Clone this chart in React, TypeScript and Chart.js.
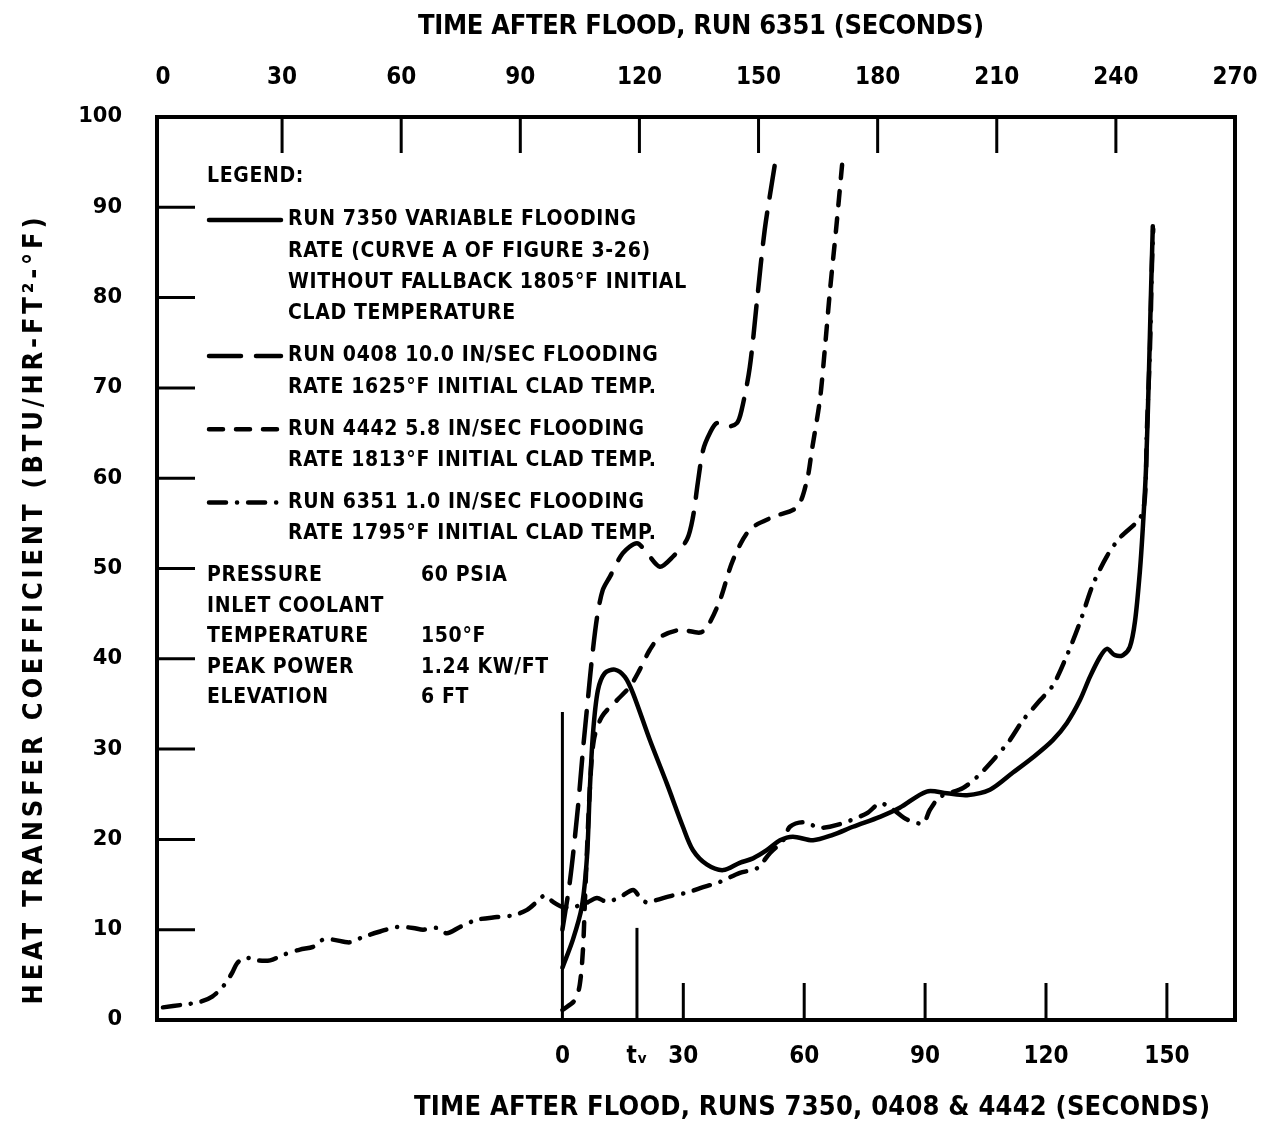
import React, { useEffect, useRef } from "react";
import { Chart, registerables } from "chart.js";

Chart.register(...registerables);

const COND = "'DejaVu Sans Condensed', 'DejaVu Sans', sans-serif";
const NARROW = "'Liberation Sans Narrow', 'DejaVu Sans Condensed', sans-serif";
const WIDE = "'DejaVu Sans', 'Liberation Sans', sans-serif";

// ---- data (bottom axis: seconds after flood for runs 7350, 0408, 4442) ----
const run7350: [number, number][] = [
  [0, 5.8], [2.6, 8.9], [4.8, 12.5], [6.1, 18.1], [6.8, 25.5], [7.6, 31.8], [8.8, 36.5],
  [10.5, 38.4], [13.0, 38.8], [15.5, 38.0], [17.5, 36.2], [21.7, 31.0], [25.9, 26.2],
  [29.9, 21.4], [32.4, 18.8], [35.9, 17.2], [39.9, 16.6], [44.0, 17.4], [47.3, 17.9],
  [50.7, 18.8], [54.0, 19.9], [57.2, 20.3], [62.2, 19.9], [67.1, 20.5], [72.1, 21.4],
  [78.8, 22.5], [83.7, 23.5], [90.4, 25.3], [95.4, 25.1], [100.4, 24.9], [106.1, 25.5],
  [111.8, 27.4], [116.8, 29.1], [121.7, 31.0], [125.2, 32.9], [128.4, 35.4], [130.9, 38.0],
  [133.4, 40.2], [135.1, 41.1], [137.1, 40.4], [139.1, 40.4], [140.8, 41.3], [142.1, 44.2],
  [143.3, 49.7], [144.0, 54.3], [144.8, 60.9], [145.5, 70.9], [146.0, 79.7], [146.5, 87.9],
];

const run0408: [number, number][] = [
  [0, 10.0], [1.9, 15.5], [3.8, 23.3], [5.1, 29.9], [6.3, 35.4], [7.3, 39.9], [8.6, 44.6],
  [10.0, 47.6], [11.8, 49.1], [15.0, 51.7], [18.5, 52.8], [21.0, 51.7], [24.2, 50.2],
  [27.4, 51.3], [30.9, 53.2], [32.4, 55.7], [33.6, 59.5], [34.9, 63.1], [36.6, 65.0],
  [38.3, 66.1], [40.8, 65.7], [43.3, 66.1], [44.5, 67.6], [46.5, 72.3], [48.3, 79.7],
  [50.2, 87.5], [52.7, 94.7],
];

const run4442: [number, number][] = [
  [0, 1.1], [3.1, 2.2], [4.3, 3.9], [5.1, 7.8], [5.6, 13.3], [6.1, 18.8], [6.8, 25.5],
  [7.8, 31.0], [9.8, 33.6], [13.5, 35.4], [16.7, 36.9], [19.2, 38.8], [21.7, 41.0],
  [24.2, 42.4], [29.2, 43.2], [34.1, 42.9], [35.9, 43.5], [39.1, 46.5], [42.3, 50.9],
  [46.5, 54.3], [52.2, 55.7], [58.2, 56.8], [60.7, 59.8], [61.9, 63.1], [63.9, 68.7],
  [65.1, 74.2], [66.4, 80.8], [67.9, 87.5], [69.4, 94.7],
];

// ---- run 6351 (top axis: seconds after flood for run 6351) ----
const run6351: [number, number][] = [
  [0, 1.4], [5.1, 1.7], [9.3, 2.0], [12.4, 2.6], [15.1, 3.7], [17.4, 5.2], [18.7, 6.3],
  [20.7, 6.9], [23.7, 6.6], [27.0, 6.6], [30.2, 7.2], [34.5, 7.8], [37.8, 8.1], [40.3, 8.9],
  [42.8, 8.9], [47.1, 8.6], [50.4, 9.2], [54.7, 9.8], [58.9, 10.3], [63.0, 10.2], [65.5, 10.0],
  [69.0, 10.2], [71.5, 9.6], [74.8, 10.3], [79.1, 11.1], [84.1, 11.4], [88.2, 11.6],
  [91.7, 12.2], [94.2, 13.1], [96.2, 13.8], [98.2, 13.1], [100.8, 12.5], [103.3, 12.5],
  [106.8, 13.0], [109.3, 13.5], [111.8, 13.1], [115.1, 13.6], [118.4, 14.4], [120.1, 13.6],
  [121.9, 13.0], [124.4, 13.3], [128.5, 13.8], [132.0, 14.1], [135.3, 14.6], [140.3, 15.3],
  [145.3, 16.3], [149.6, 16.8], [152.9, 18.5], [156.2, 19.9], [157.9, 21.4], [161.2, 21.9],
  [165.5, 21.3], [169.8, 21.6], [177.3, 22.9], [180.6, 24.0], [183.9, 23.3], [187.4, 22.2],
  [191.4, 21.8], [193.2, 23.3], [195.7, 24.7], [201.5, 25.7], [205.0, 26.9], [209.1, 28.8],
  [213.3, 31.0], [216.6, 33.2], [220.9, 35.4], [224.2, 37.1], [227.7, 40.4], [231.0, 44.1],
  [234.2, 48.2], [237.8, 51.4], [241.0, 53.4], [246.1, 55.6], [247.3, 57.8], [247.8, 65.2],
  [248.6, 74.6], [249.1, 83.9], [249.4, 87.6],
];

// flood start marker and t_v marker (bottom-axis seconds, HTC height)
const floodStartMark: [number, number][] = [[0, 0], [0, 34.1]];
const tvMark: [number, number][] = [[18.5, 0], [18.5, 10.2]];

// ---- axes ----
const bottomTickValues = [0, 18.5, 30, 60, 90, 120, 150];
const bottomTickLabels = ["0", "t\u1d65", "30", "60", "90", "120", "150"];
const topTickValues = [0, 30, 60, 90, 120, 150, 180, 210, 240, 270];
const yTickValues = [0, 10, 20, 30, 40, 50, 60, 70, 80, 90, 100];

const topTitle = "TIME AFTER FLOOD, RUN 6351 (SECONDS)";
const bottomTitle = "TIME AFTER FLOOD, RUNS 7350, 0408 & 4442 (SECONDS)";
const yTitle = "HEAT TRANSFER COEFFICIENT (BTU/HR-FT\u00b2-\u00b0F)";

// ---- legend text ----
const legendHeading = "LEGEND:";
const legend7350 = ["RUN 7350 VARIABLE FLOODING", "RATE (CURVE A OF FIGURE 3-26)", "WITHOUT FALLBACK 1805\u00b0F INITIAL", "CLAD TEMPERATURE"];
const legend0408 = ["RUN 0408 10.0 IN/SEC FLOODING", "RATE 1625\u00b0F INITIAL CLAD TEMP."];
const legend4442 = ["RUN 4442 5.8 IN/SEC FLOODING", "RATE 1813\u00b0F INITIAL CLAD TEMP."];
const legend6351 = ["RUN 6351 1.0 IN/SEC FLOODING", "RATE 1795\u00b0F INITIAL CLAD TEMP."];
const conditionNames = ["PRESSURE", "INLET COOLANT", "TEMPERATURE", "PEAK POWER", "ELEVATION"];
const conditionValues = ["60 PSIA", "", "150\u00b0F", "1.24 KW/FT", "6 FT"];

// ---- styles ----
const DASH_SOLID: number[] = [];
const DASH_0408 = [32, 15];
const DASH_4442 = [14, 13];
const DASH_6351 = [17, 11, 0.1, 11];
const LINE_W = 4.5;

function fontAvailable(family: string): boolean {
  const c = document.createElement("canvas").getContext("2d");
  if (!c) return false;
  const sample = "RUN 7350 VARIABLE FLOODING 0123456789";
  c.font = "bold 40px monospace";
  const base = c.measureText(sample).width;
  c.font = `bold 40px '${family}', monospace`;
  return Math.abs(c.measureText(sample).width - base) > 0.5;
}

function spacedText(ctx: any, text: string, cx: number, cy: number, width: number, font: string, angle = 0) {
  ctx.save();
  ctx.font = font;
  ctx.letterSpacing = "0px";
  const n = Array.from(text).length;
  const natural = ctx.measureText(text).width;
  const ls = (width - natural) / Math.max(n - 1, 1);
  ctx.letterSpacing = ls.toFixed(2) + "px";
  ctx.translate(cx, cy);
  ctx.rotate(angle);
  ctx.textAlign = "left";
  ctx.textBaseline = "middle";
  ctx.fillStyle = "#000";
  ctx.fillText(text, -width / 2, 0);
  ctx.restore();
}

function makeDecorPlugin(letterFamily: string, titleSize: number, legendSize: number) {
  return {
    id: "decor",
    afterDraw(chart: any) {
      const { ctx, chartArea: a, scales } = chart;
      const xs = scales.x;
      const xt = scales.x2;
      const ys = scales.y;
      ctx.save();
      ctx.strokeStyle = "#000";
      ctx.fillStyle = "#000";
      ctx.lineCap = "butt";

      // frame
      ctx.lineWidth = 4;
      ctx.strokeRect(a.left, a.top, a.right - a.left, a.bottom - a.top);

      // inward tick marks
      ctx.lineWidth = 3;
      ctx.beginPath();
      ys.ticks.forEach((t: any) => {
        if (t.value > 0 && t.value < 100) {
          const py = ys.getPixelForValue(t.value);
          ctx.moveTo(a.left, py);
          ctx.lineTo(a.left + 38, py);
        }
      });
      xt.ticks.forEach((t: any) => {
        if (t.value > 0 && t.value < 270) {
          const px = xt.getPixelForValue(t.value);
          ctx.moveTo(px, a.top);
          ctx.lineTo(px, a.top + 36);
        }
      });
      xs.ticks.forEach((t: any) => {
        if (t.value >= 30) {
          const px = xs.getPixelForValue(t.value);
          ctx.moveTo(px, a.bottom);
          ctx.lineTo(px, a.bottom - 37);
        }
      });
      ctx.stroke();

      // axis titles
      const titleFont = `bold ${titleSize}px ${letterFamily}`;
      spacedText(ctx, topTitle, 701, 27, 566, titleFont);
      spacedText(ctx, bottomTitle, 812, 1108, 796, titleFont);
      spacedText(ctx, yTitle, 35, 611, 787, titleFont, -Math.PI / 2);

      // legend
      const lx = a.left + 50;
      const tx = a.left + 131;
      const sampleEnd = a.left + 124;
      const lineStep = 31.3;
      const groupGap = 42;
      ctx.font = `bold ${legendSize}px ${letterFamily}`;
      ctx.letterSpacing = "0px";
      const refLine = legend7350[0];
      const natural = ctx.measureText(refLine).width;
      const ls = (348 - natural) / (Array.from(refLine).length - 1);
      ctx.letterSpacing = ls.toFixed(2) + "px";
      ctx.textAlign = "left";
      ctx.textBaseline = "middle";
      let y = a.top + 60;
      ctx.fillText(legendHeading, lx, y);
      y += 43;
      const groups: [string[], number[]][] = [
        [legend7350, DASH_SOLID],
        [legend0408, DASH_0408],
        [legend4442, DASH_4442],
        [legend6351, DASH_6351],
      ];
      groups.forEach(([lines, dash]) => {
        ctx.save();
        ctx.lineWidth = LINE_W;
        ctx.lineCap = "round";
        ctx.setLineDash(dash);
        ctx.beginPath();
        ctx.moveTo(lx + 2, y);
        ctx.lineTo(sampleEnd, y);
        ctx.stroke();
        ctx.restore();
        lines.forEach((ln, i) => {
          ctx.fillText(ln, tx, y + i * lineStep);
        });
        y += (lines.length - 1) * lineStep + groupGap;
      });
      const condStep = 30.5;
      conditionNames.forEach((name, i) => {
        ctx.fillText(name, lx, y + i * condStep);
        if (conditionValues[i]) ctx.fillText(conditionValues[i], a.left + 264, y + i * condStep);
      });
      ctx.letterSpacing = "0px";
      ctx.restore();
    },
  };
}

function toXY(arr: [number, number][]) {
  return arr.map(([x, y]) => ({ x, y }));
}

export default function App() {
  const ref = useRef<HTMLCanvasElement>(null);

  useEffect(() => {
    document.body.style.margin = "0";
    const canvas = ref.current;
    if (!canvas) return;
    const hasNarrow = fontAvailable("Liberation Sans Narrow");
    const letterFamily = hasNarrow ? NARROW : COND;
    const tickSize = hasNarrow ? 28 : 24;
    const titleSize = hasNarrow ? 28 : 27;
    const legendSize = hasNarrow ? 23 : 21;
    const tickLH = tickSize * 1.2;
    const topPad = 117 - 78 - tickLH / 2;
    const bottomPad = 1057 - 1020 - tickLH / 2;

    const common = {
      borderColor: "#000",
      backgroundColor: "#000",
      borderWidth: LINE_W,
      pointRadius: 0,
      fill: false,
      tension: 0.3,
      borderCapStyle: "round",
      borderJoinStyle: "round",
    };
    const chart = new Chart(canvas, {
      type: "line",
      data: {
        datasets: [
          { ...common, label: "RUN 7350", data: toXY(run7350), xAxisID: "x", yAxisID: "y", borderDash: DASH_SOLID },
          { ...common, label: "RUN 0408", data: toXY(run0408), xAxisID: "x", yAxisID: "y", borderDash: DASH_0408 },
          { ...common, label: "RUN 4442", data: toXY(run4442), xAxisID: "x", yAxisID: "y", borderDash: DASH_4442 },
          { ...common, label: "RUN 6351", data: toXY(run6351), xAxisID: "x2", yAxisID: "y", borderDash: DASH_6351 },
          { ...common, label: "flood", data: toXY(floodStartMark), xAxisID: "x", yAxisID: "y", borderWidth: 3, tension: 0, borderCapStyle: "butt" },
          { ...common, label: "tv", data: toXY(tvMark), xAxisID: "x", yAxisID: "y", borderWidth: 3, tension: 0, borderCapStyle: "butt" },
        ] as any,
      },
      options: {
        responsive: false,
        maintainAspectRatio: false,
        animation: false,
        devicePixelRatio: 1,
        events: [],
        layout: { padding: { left: 0, right: 42, top: 0, bottom: 0 } },
        plugins: { legend: { display: false }, tooltip: { enabled: false }, title: { display: false } },
        scales: {
          x: {
            type: "linear",
            position: "bottom",
            min: -100.6,
            max: 166.9,
            grid: { display: false, drawTicks: false },
            border: { display: false },
            ticks: {
              color: "#000",
              font: { family: letterFamily, size: tickSize, weight: "bold" },
              padding: bottomPad,
              autoSkip: false,
              maxRotation: 0,
              minRotation: 0,
              callback: (_v: any, i: number) => bottomTickLabels[i],
            },
            afterBuildTicks: (s: any) => {
              s.ticks = bottomTickValues.map((v) => ({ value: v }));
            },
            afterFit: (s: any) => {
              s.height = 105;
              s.paddingLeft = 0;
              s.paddingRight = 0;
            },
          },
          x2: {
            type: "linear",
            position: "top",
            min: -1.5,
            max: 270,
            grid: { display: false, drawTicks: false },
            border: { display: false },
            ticks: {
              color: "#000",
              font: { family: letterFamily, size: tickSize, weight: "bold" },
              padding: topPad,
              autoSkip: false,
              maxRotation: 0,
              minRotation: 0,
              callback: (v: any) => String(v),
            },
            afterBuildTicks: (s: any) => {
              s.ticks = topTickValues.map((v) => ({ value: v }));
            },
            afterFit: (s: any) => {
              s.height = 117;
              s.paddingLeft = 0;
              s.paddingRight = 0;
            },
          },
          y: {
            type: "linear",
            position: "left",
            min: 0,
            max: 100,
            grid: { display: false, drawTicks: false },
            border: { display: false },
            ticks: {
              color: "#000",
              font: { family: WIDE, size: 21, weight: "bold" },
              padding: 35,
              callback: (v: any) => String(v),
            },
            afterBuildTicks: (s: any) => {
              s.ticks = yTickValues.map((v) => ({ value: v }));
            },
            afterFit: (s: any) => {
              s.width = 157;
              s.paddingTop = 0;
              s.paddingBottom = 0;
            },
          },
        },
      } as any,
      plugins: [makeDecorPlugin(letterFamily, titleSize, legendSize)],
    });
    return () => chart.destroy();
  }, []);

  return (
    <div style={{ width: 1277, height: 1125 }}>
      <canvas ref={ref} width={1277} height={1125} style={{ display: "block" }} />
    </div>
  );
}
